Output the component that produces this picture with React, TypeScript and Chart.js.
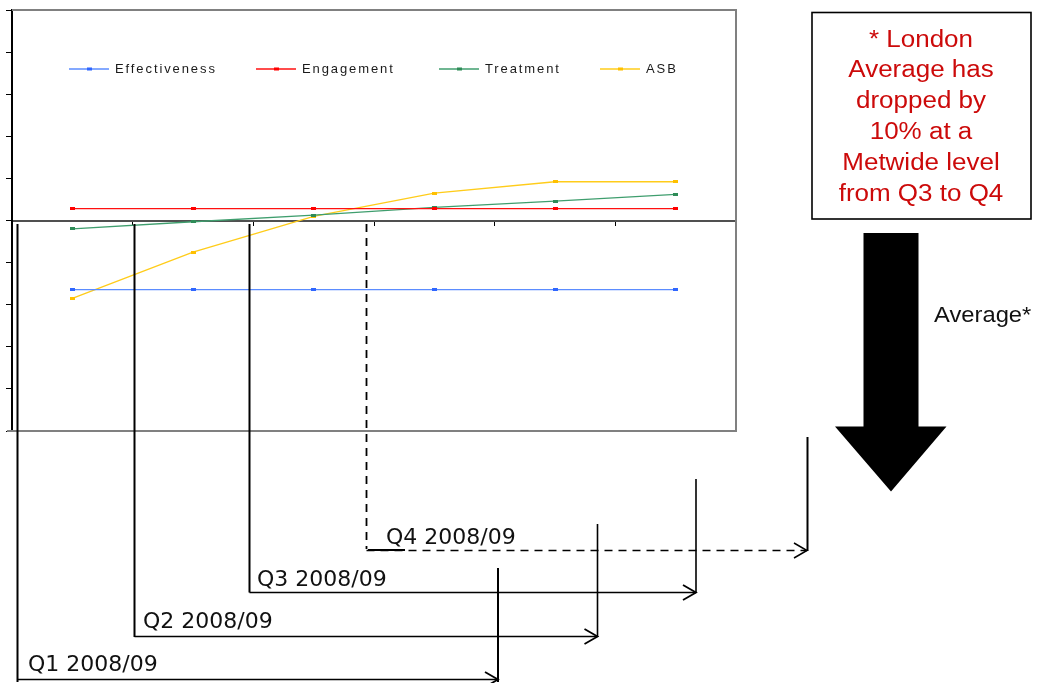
import React, { useEffect, useRef } from 'react';
import { Chart, registerables } from 'chart.js';

Chart.register(...registerables);

// ---- data ----
const categories = ['1', '2', '3', '4', '5', '6'];
const seriesNames = ['Effectiveness', 'Engagement', 'Treatment', 'ASB'];
const effectiveness = [-1.64, -1.64, -1.64, -1.64, -1.64, -1.64];
const engagement = [0.28, 0.28, 0.28, 0.28, 0.28, 0.28];
const treatment = [-0.2, -0.03, 0.13, 0.31, 0.46, 0.62];
const asb = [-1.85, -0.75, 0.1, 0.65, 0.92, 0.92];
const yMin = -5;
const yMax = 5;
const yStep = 1;

const quarterLabels = ['Q1 2008/09', 'Q2 2008/09', 'Q3 2008/09', 'Q4 2008/09'];
const noteLines = ['* London', 'Average has', 'dropped by', '10% at a', 'Metwide level', 'from Q3 to Q4'];
const averageLabel = 'Average*';

// ---- styles ----
const lineColors = ['#5b8cff', '#ff1010', '#3f9e6e', '#ffcc1a'];
const markerColors = ['#2f66ff', '#ff0000', '#2e8b57', '#ffc000'];

function markerCanvas(color: string) {
  const c = document.createElement('canvas');
  c.width = 5;
  c.height = 3;
  const x = c.getContext('2d')!;
  x.fillStyle = color;
  x.fillRect(0, 0, 5, 3);
  return c;
}

function scaledText(ctx: CanvasRenderingContext2D, text: string, x: number, y: number, sx: number, align: CanvasTextAlign) {
  ctx.save();
  ctx.translate(x, y);
  ctx.scale(sx, 1);
  ctx.textAlign = align;
  ctx.fillText(text, 0, 0);
  ctx.restore();
}

const framePlugin = {
  id: 'frame',
  afterDraw(chart: any) {
    const { ctx, chartArea: a } = chart;
    ctx.save();
    ctx.strokeStyle = '#808080';
    ctx.lineWidth = 2;
    ctx.beginPath();
    ctx.moveTo(a.left, a.top);
    ctx.lineTo(a.right, a.top);
    ctx.lineTo(a.right, a.bottom);
    ctx.lineTo(a.left - 5, a.bottom);
    ctx.stroke();
    ctx.restore();
  },
};

const legendPlugin = {
  id: 'customLegend',
  afterDraw(chart: any) {
    const { ctx } = chart;
    const lineStarts = [69, 256, 439, 600];
    const y = 69;
    ctx.save();
    chart.data.datasets.forEach((ds: any, i: number) => {
      const x0 = lineStarts[i];
      ctx.strokeStyle = ds.borderColor;
      ctx.lineWidth = 1.3;
      ctx.beginPath();
      ctx.moveTo(x0, y);
      ctx.lineTo(x0 + 40, y);
      ctx.stroke();
      ctx.fillStyle = markerColors[i];
      ctx.fillRect(x0 + 18, y - 1.5, 5, 3);
      ctx.fillStyle = '#1a1a1a';
      ctx.font = '13px "Liberation Sans", Arial, sans-serif';
      (ctx as any).letterSpacing = '1.9px';
      ctx.textBaseline = 'middle';
      ctx.textAlign = 'left';
      ctx.fillText(ds.label, x0 + 46, y + 0.5);
      (ctx as any).letterSpacing = '0px';
    });
    ctx.restore();
  },
};

const annotationPlugin = {
  id: 'annotations',
  afterDraw(chart: any) {
    const { ctx } = chart;
    ctx.save();
    ctx.strokeStyle = '#000';
    ctx.fillStyle = '#000';
    ctx.lineCap = 'butt';

    const seg = (x1: number, y1: number, x2: number, y2: number, w: number, dash: number[] = []) => {
      ctx.lineWidth = w;
      ctx.setLineDash(dash);
      ctx.beginPath();
      ctx.moveTo(x1, y1);
      ctx.lineTo(x2, y2);
      ctx.stroke();
      ctx.setLineDash([]);
    };
    const head = (x: number, y: number, w: number) => {
      ctx.lineWidth = w;
      ctx.setLineDash([]);
      ctx.beginPath();
      ctx.moveTo(x - 13, y - 7.5);
      ctx.lineTo(x, y);
      ctx.lineTo(x - 13, y + 7.5);
      ctx.stroke();
    };

    // Q1
    seg(17.5, 224, 17.5, 682, 2);
    seg(17.5, 679.5, 498, 679.5, 1.4);
    head(498, 679.5, 1.8);
    seg(498, 568, 498, 682, 2);
    // Q2
    seg(134.5, 224, 134.5, 637, 2);
    seg(134.5, 636.5, 597.5, 636.5, 1.6);
    head(597.5, 636.5, 1.8);
    seg(597.5, 524, 597.5, 637, 1.6);
    // Q3
    seg(249.5, 224, 249.5, 592.5, 2);
    seg(249.5, 592.5, 696, 592.5, 1.4);
    head(696, 592.5, 1.8);
    seg(696, 479, 696, 593, 1.6);
    // Q4 (dashed)
    seg(366.5, 224, 366.5, 549, 1.8, [8, 6]);
    seg(366.5, 550.5, 807, 550.5, 1.3, [8, 6]);
    seg(368, 550, 405, 550, 2.2);
    head(807, 550.5, 1.5);
    seg(807.5, 437, 807.5, 551, 2);

    // quarter labels
    ctx.fillStyle = '#111';
    ctx.font = '22px "DejaVu Sans", Verdana, sans-serif';
    ctx.textBaseline = 'alphabetic';
    const qPos = [
      [28, 671],
      [143, 627.5],
      [257, 585.5],
      [386, 543.5],
    ];
    quarterLabels.forEach((t, i) => {
      ctx.textAlign = 'left';
      ctx.fillText(t, qPos[i][0], qPos[i][1]);
    });

    // note box
    ctx.strokeStyle = '#000';
    ctx.lineWidth = 1.6;
    ctx.strokeRect(812, 12.5, 219, 206.5);
    ctx.fillStyle = '#cc0a0a';
    ctx.font = '23px "Liberation Sans", Arial, sans-serif';
    noteLines.forEach((t, i) => {
      scaledText(ctx, t, 921, 46.5 + i * 30.8, 1.13, 'center');
    });

    // big down arrow
    ctx.fillStyle = '#000';
    ctx.beginPath();
    ctx.moveTo(863.5, 233);
    ctx.lineTo(918.5, 233);
    ctx.lineTo(918.5, 426.5);
    ctx.lineTo(946.5, 426.5);
    ctx.lineTo(891, 491.5);
    ctx.lineTo(835, 426.5);
    ctx.lineTo(863.5, 426.5);
    ctx.closePath();
    ctx.fill();

    ctx.fillStyle = '#111';
    ctx.font = '22px "Liberation Sans", Arial, sans-serif';
    scaledText(ctx, averageLabel, 934, 321.5, 1.08, 'left');

    ctx.restore();
  },
};

export default function App() {
  const ref = useRef<HTMLCanvasElement>(null);

  useEffect(() => {
    const canvas = ref.current!;
    const values = [effectiveness, engagement, treatment, asb];
    const chart = new Chart(canvas, {
      type: 'line',
      data: {
        labels: categories,
        datasets: values.map((v, i) => ({
          label: seriesNames[i],
          data: v,
          borderColor: lineColors[i],
          backgroundColor: markerColors[i],
          borderWidth: 1.3,
          pointStyle: markerCanvas(markerColors[i]) as any,
          pointRadius: 3,
          tension: 0,
          fill: false,
        })),
      },
      options: {
        animation: false,
        responsive: false,
        maintainAspectRatio: false,
        layout: { padding: { left: 6, top: 10, right: 306, bottom: 252 } },
        plugins: { legend: { display: false }, tooltip: { enabled: false } },
        scales: {
          x: {
            type: 'category',
            position: { y: 0 } as any,
            offset: true,
            grid: { offset: true, drawOnChartArea: false, drawTicks: true, tickLength: 4, color: '#000', lineWidth: 1 },
            ticks: { display: false },
            border: { color: '#505050', width: 2 },
          },
          y: {
            min: yMin,
            max: yMax,
            ticks: { display: false, stepSize: yStep },
            grid: { drawOnChartArea: false, drawTicks: true, tickLength: 6, color: '#000', lineWidth: 1 },
            border: { color: '#000', width: 2 },
          },
        },
      },
      plugins: [framePlugin, legendPlugin, annotationPlugin],
    });
    return () => chart.destroy();
  }, []);

  return (
    <div style={{ position: 'fixed', left: 0, top: 0, width: 1042, height: 683, background: '#fff' }}>
      <canvas ref={ref} width={1042} height={683} style={{ display: 'block' }} />
    </div>
  );
}
